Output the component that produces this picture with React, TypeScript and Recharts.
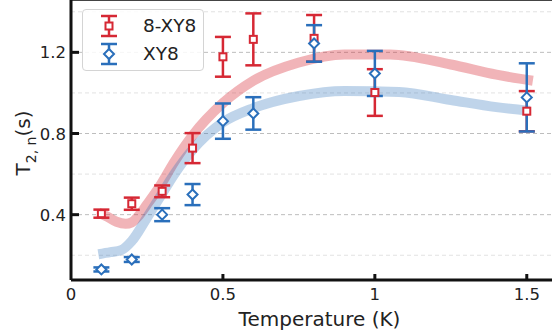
import React from "react";
import {
  ComposedChart,
  Line,
  Scatter,
  ErrorBar,
  XAxis,
  YAxis,
  ReferenceLine,
  Legend,
} from "recharts";

const RED = "#d62834";
const BLUE = "#2a6fbb";
const FONT = "DejaVu Sans";

// measured points
const temps = [0.1, 0.2, 0.3, 0.4, 0.5, 0.6, 0.8, 1.0, 1.5];
const t2Seq = [0.405, 0.454, 0.515, 0.728, 1.178, 1.264, 1.269, 1.002, 0.91];
const errSeq = [0.02, 0.03, 0.029, 0.074, 0.098, 0.128, 0.115, 0.115, 0.099];
const t2Xy8 = [0.13, 0.179, 0.4, 0.499, 0.861, 0.899, 1.244, 1.096, 0.978];
const errXy8 = [0.01, 0.012, 0.032, 0.052, 0.087, 0.08, 0.09, 0.111, 0.168];

// fit curves
const fitSeqT = [0.09, 0.12, 0.15, 0.18, 0.2, 0.22, 0.25, 0.29, 0.34, 0.4, 0.5, 0.6, 0.75, 0.9, 1.05, 1.25, 1.4, 1.52];
const fitSeqV = [0.41, 0.39, 0.365, 0.355, 0.362, 0.39, 0.45, 0.535, 0.66, 0.79, 0.95, 1.06, 1.15, 1.19, 1.19, 1.14, 1.09, 1.06];
const fitXyT = [0.09, 0.13, 0.165, 0.2, 0.25, 0.29, 0.34, 0.4, 0.5, 0.6, 0.75, 0.9, 1.08, 1.25, 1.4, 1.51];
const fitXyV = [0.205, 0.215, 0.225, 0.27, 0.385, 0.48, 0.6, 0.72, 0.855, 0.925, 0.985, 1.01, 1.005, 0.965, 0.93, 0.912];

const xTicks = [0, 0.5, 1, 1.5];
const yTicks = [0.4, 0.8, 1.2];
const majorGrid = [0.4, 0.8, 1.2];
const minorGrid = [0.2, 0.6, 1.0, 1.4];

const X_MAX = 1.583;
const Y_MIN = 0.078;
const Y_MAX = 1.458;

const seqData = temps.map((t, i) => ({ x: t, y: t2Seq[i], err: errSeq[i] }));
const xy8Data = temps.map((t, i) => ({ x: t, y: t2Xy8[i], err: errXy8[i] }));
const seqFit = fitSeqT.map((t, i) => ({ x: t, y: fitSeqV[i] }));
const xy8Fit = fitXyT.map((t, i) => ({ x: t, y: fitXyV[i] }));

const Square = (props: any) => {
  const { cx, cy } = props;
  return <rect x={cx - 3.5} y={cy - 3.5} width={7} height={7} fill="#fff" stroke={RED} strokeWidth={2} />;
};

const Diamond = (props: any) => {
  const { cx, cy } = props;
  const r = 5;
  return (
    <path
      d={`M${cx},${cy - r} L${cx + r},${cy} L${cx},${cy + r} L${cx - r},${cy} Z`}
      fill="#fff"
      stroke={BLUE}
      strokeWidth={2}
    />
  );
};

const XTick = (props: any) => {
  const { x, y, payload } = props;
  return (
    <g>
      {payload.value > 0 && <line x1={x} x2={x} y1={y} y2={y - 6} stroke="#111" strokeWidth={3} />}
      <text x={x} y={y + 20} textAnchor="middle" fontSize={16.5} fill="#222" fontFamily={FONT}>
        {payload.value}
      </text>
    </g>
  );
};

const YTick = (props: any) => {
  const { x, y, payload } = props;
  return (
    <g>
      <line x1={x} x2={x + 8} y1={y} y2={y} stroke="#111" strokeWidth={3} />
      <text x={x - 5} y={y + 6} textAnchor="end" fontSize={16.5} fill="#222" fontFamily={FONT}>
        {payload.value.toFixed(1)}
      </text>
    </g>
  );
};

const YLabel = () => (
  <text transform="translate(30,143) rotate(-90)" textAnchor="middle" fontSize={20} fill="#222" fontFamily={FONT}>
    T
    <tspan fontSize={14} dy={6}>2, n</tspan>
    <tspan dy={-6}>(s)</tspan>
  </text>
);

const LegendMarker = ({ color, kind }: { color: string; kind: string }) => (
  <svg width={20} height={24} style={{ position: "absolute", left: 16, top: -12 }}>
    <line x1={10} x2={10} y1={2} y2={22} stroke={color} strokeWidth={2.5} />
    <line x1={2} x2={18} y1={2} y2={2} stroke={color} strokeWidth={2.5} />
    <line x1={2} x2={18} y1={22} y2={22} stroke={color} strokeWidth={2.5} />
    {kind === "square" ? (
      <rect x={6.5} y={8.5} width={7} height={7} fill="#fff" stroke={color} strokeWidth={2} />
    ) : (
      <path d="M10,7 L15,12 L10,17 L5,12 Z" fill="#fff" stroke={color} strokeWidth={2} />
    )}
  </svg>
);

const LegendBox = () => {
  const rows = [
    { label: "8-XY8", color: RED, kind: "square", top: 16 },
    { label: "XY8", color: BLUE, kind: "diamond", top: 44 },
  ];
  return (
    <div
      style={{
        position: "relative",
        width: 122,
        height: 62,
        boxSizing: "border-box",
        border: "1px solid #d4d4d4",
        borderRadius: 4,
        background: "rgba(255,255,255,0.85)",
        fontFamily: FONT,
      }}
    >
      {rows.map((r) => (
        <div key={r.label} style={{ position: "absolute", left: 0, top: r.top, width: "100%" }}>
          <LegendMarker color={r.color} kind={r.kind} />
          <span
            style={{
              position: "absolute",
              left: 60,
              top: -12,
              fontSize: 18.5,
              lineHeight: "24px",
              color: "#222",
            }}
          >
            {r.label}
          </span>
        </div>
      ))}
    </div>
  );
};

export default function App() {
  return (
    <div style={{ position: "absolute", left: 0, top: 0, width: 552, height: 335, background: "#fff" }}>
      <ComposedChart width={552} height={335} margin={{ top: 0, right: 0, left: 0, bottom: 0 }}>
        <XAxis
          type="number"
          dataKey="x"
          domain={[0, X_MAX]}
          ticks={xTicks}
          allowDataOverflow
          height={55}
          tickSize={0}
          tickMargin={0}
          tick={<XTick />}
          axisLine={{ stroke: "#111", strokeWidth: 3 }}
          label={{
            value: "Temperature (K)",
            position: "insideBottom",
            offset: 9,
            dx: 8,
            fontSize: 20,
            fill: "#222",
            fontFamily: FONT,
          }}
        />
        <YAxis
          type="number"
          dataKey="y"
          domain={[Y_MIN, Y_MAX]}
          ticks={yTicks}
          allowDataOverflow
          width={71}
          tickSize={0}
          tickMargin={0}
          tick={<YTick />}
          axisLine={{ stroke: "#111", strokeWidth: 3 }}
          label={{ content: <YLabel /> }}
        />
        {minorGrid.map((v) => (
          <ReferenceLine key={"m" + v} y={v} stroke="#e2e2e2" strokeDasharray="4 3" strokeWidth={1} />
        ))}
        {majorGrid.map((v) => (
          <ReferenceLine key={"M" + v} y={v} stroke="#bdbdbd" strokeDasharray="4 3" strokeWidth={1} />
        ))}
        <ReferenceLine y={Y_MAX} stroke="#444" strokeWidth={2} />
        <Line
          data={seqFit}
          dataKey="y"
          type="monotone"
          stroke={RED}
          strokeOpacity={0.35}
          strokeWidth={10}
          dot={false}
          activeDot={false}
          isAnimationActive={false}
        />
        <Line
          data={xy8Fit}
          dataKey="y"
          type="monotone"
          stroke={BLUE}
          strokeOpacity={0.3}
          strokeWidth={10}
          dot={false}
          activeDot={false}
          isAnimationActive={false}
        />
        <Scatter data={seqData} dataKey="y" shape={<Square />} isAnimationActive={false}>
          <ErrorBar dataKey="err" direction="y" width={8} stroke={RED} strokeWidth={2.5} />
        </Scatter>
        <Scatter data={xy8Data} dataKey="y" shape={<Diamond />} isAnimationActive={false}>
          <ErrorBar dataKey="err" direction="y" width={8} stroke={BLUE} strokeWidth={2.5} />
        </Scatter>
        <Legend
          layout="horizontal"
          verticalAlign="middle"
          align="center"
          wrapperStyle={{ left: 82, top: 9, width: 122 }}
          content={<LegendBox />}
        />
      </ComposedChart>
    </div>
  );
}
